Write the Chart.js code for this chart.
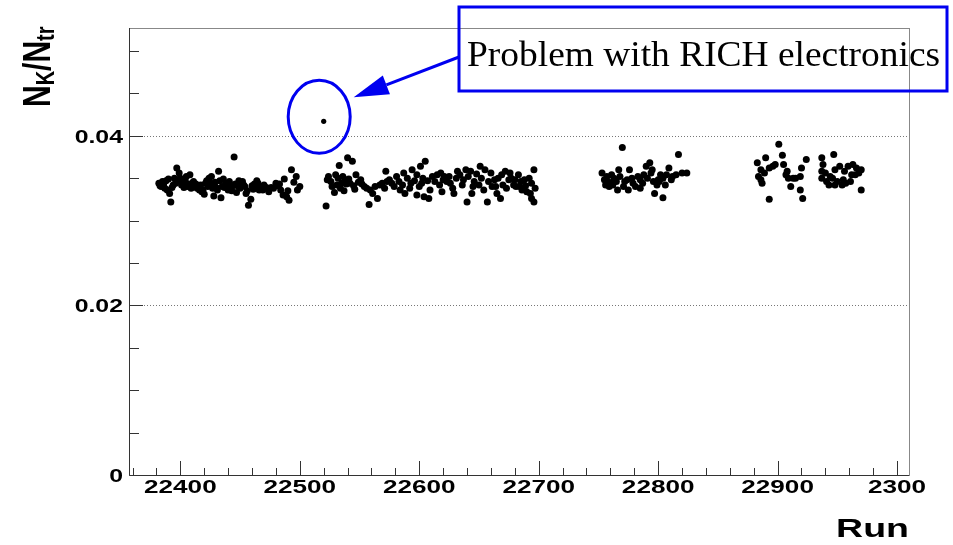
<!DOCTYPE html>
<html>
<head>
<meta charset="utf-8">
<script src="https://cdn.jsdelivr.net/npm/chart.js@4"></script>
<style>
  html, body { margin: 0; padding: 0; background: #fff; }
  #wrap { width: 953px; height: 545px; }
</style>
</head>
<body>
<div id="wrap"><canvas id="kaon-chart" width="953" height="545"></canvas></div>
<script>
// run blocks (kaon / track ratio per run)
const runsA = [22382,22384,22385,22387,22389,22390,22391,22392,22394,22396,22397,22399,22400,22402,22404,22406,22408,22410,22412,22414,22416,22418,22420,22422,22424,22426,22428,22430,22432,22434,22436,22438,22440,22442,22444,22445,22447,22449,22451,22453,22455,22457,22459,22461,22462,22464,22466,22468,22470,22472,22474,22478,22480,22482,22484,22486,22487,22489,22490,22491,22493,22495,22497,22498,22500,
  22383,22386,22388,22393,22395,22398,22401,22403,22405,22407,22409,22411,22413,22415,22417,22419,22421,22423,22425,22427,22429,22431,22433,22435,22437,22439,22441,22443,22446,22448,22450,22452,22454,22456,22460,22463,22465,22469,22476,22483];
const ratioA = [.0344,.0340,.0346,.0338,.0336,.0349,.0332,.0322,.0342,.0344,.0362,.0356,.0350,.0345,.0347,.0340,.0354,.0344,.0341,.0338,.0336,.0334,.0331,.0347,.0350,.0352,.0329,.0339,.0358,.0327,.0349,.0344,.0336,.0338,.0341,.0375,.0333,.0347,.0344,.0342,.0332,.0318,.0325,.0337,.0343,.0347,.0336,.0340,.0342,.0339,.0334,.0338,.0344,.0341,.0336,.0330,.0349,.0328,.0335,.0324,.0360,.0345,.0352,.0336,.0340,
  .0341,.0343,.0347,.0339,.0350,.0348,.0342,.0339,.0352,.0343,.0338,.0346,.0343,.0339,.0342,.0336,.0344,.0340,.0344,.0338,.0345,.0336,.0347,.0340,.0339,.0342,.0346,.0335,.0343,.0341,.0338,.0346,.0340,.0335,.0341,.0339,.0344,.0336,.0339,.0343];

const runsB = [22522,22523,22529,22530,22533,22535,22538,22540,22542,22544,22547,22551,22554,22558,22561,22563,22565,22569,22572,22575,22579,22583,22584,22587,22588,22593,22594,22598,22598,22601,22602,22604,22605,22608,22609,22611,22615,22618,22619,22621,22623,22626,22629,22632,22634,22636,22639,22640,22643,22644,22646,22650,22651,22654,22655,22657,22660,22663,22664,22665,22668,22669,22672,22675,22676,22679,22681,22683,22685,22686,22688,22690,22693,22694,22694,22696,22696,
  22524,22526,22527,22531,22532,22534,22536,22537,22539,22541,22545,22546,22549,22552,22556,22559,22567,22571,22573,22577,22581,22586,22590,22592,22596,22600,22603,22607,22613,22617,22620,22625,22628,22631,22637,22641,22645,22648,22652,22658,22661,22666,22670,22673,22677,22680,22684,22689,22692,22697];
const ratioB = [.0317,.0348,.0333,.0354,.0365,.0344,.0348,.0374,.0344,.0370,.0354,.0348,.0340,.0319,.0332,.0340,.0326,.0344,.0358,.0348,.0340,.0346,.0336,.0356,.0332,.0344,.0360,.0354,.0330,.0364,.0344,.0328,.0370,.0326,.0336,.0352,.0354,.0356,.0334,.0352,.0346,.0344,.0332,.0358,.0354,.0342,.0360,.0322,.0358,.0332,.0346,.0342,.0364,.0336,.0360,.0322,.0356,.0348,.0340,.0332,.0326,.0354,.0358,.0348,.0356,.0342,.0340,.0354,.0346,.0336,.0348,.0334,.0332,.0344,.0326,.0360,.0322,
  .0352,.0346,.0340,.0342,.0350,.0338,.0352,.0335,.0343,.0349,.0341,.0337,.0345,.0343,.0338,.0336,.0342,.0338,.0346,.0344,.0352,.0342,.0350,.0338,.0347,.0340,.0350,.0347,.0346,.0342,.0348,.0352,.0338,.0350,.0348,.0352,.0340,.0355,.0350,.0346,.0340,.0350,.0342,.0338,.0350,.0348,.0340,.0341,.0350,.0338];

const runsC = [22753,22755,22757,22759,22760,22763,22766,22767,22768,22770,22772,22775,22776,22778,22781,22785,22785,22788,22790,22793,22794,22796,22797,22799,22802,22804,22804,22806,22809,22812,22817,22820,22824,22758,22762,22779,22800,
  22756,22761,22765,22771,22774,22783,22787,22791,22795,22801,22807,22811,22815];
const ratioC = [.0356,.0348,.0352,.0340,.0344,.0350,.0336,.0360,.0352,.0386,.0346,.0336,.0360,.0350,.0340,.0348,.0338,.0354,.0364,.0368,.0356,.0346,.0332,.0342,.0354,.0350,.0327,.0342,.0362,.0352,.0378,.0356,.0356,.0346,.0342,.0344,.0348,
  .0342,.0354,.0346,.0340,.0348,.0352,.0344,.0350,.0360,.0346,.0354,.0348,.0354];

const runsD = [22883,22886,22886,22887,22890,22893,22893,22896,22901,22904,22905,22908,22909,22911,22915,22919,22919,22920,22921,22924,22937,22937,22937,22941,22943,22944,22947,22948,22948,22952,22954,22955,22957,22959,22962,22963,22965,22966,22970,22970,
  22884,22889,22898,22907,22913,22938,22940,22946,22950,22956,22961,22968];
const ratioD = [.0368,.0360,.0348,.0344,.0374,.0362,.0325,.0364,.0390,.0377,.0366,.0358,.0350,.0340,.0350,.0352,.0336,.0362,.0326,.0372,.0374,.0358,.0350,.0346,.0342,.0352,.0378,.0360,.0342,.0364,.0342,.0348,.0344,.0364,.0354,.0366,.0354,.0362,.0360,.0336,
  .0352,.0356,.0366,.0354,.0350,.0366,.0356,.0350,.0346,.0358,.0346,.0356];

// the bad run (RICH electronics)
const badRun = [22520];
const badRatio = [0.0417];

const xTicks = [22400, 22500, 22600, 22700, 22800, 22900, 23000];
const xTickLabels = ['22400', '22500', '22600', '22700', '22800', '22900', '2300'];
const yTicks = [0, 0.02, 0.04];
const yTickLabels = ['0', '0.02', '0.04'];

const toPoints = (xs, ys) => xs.map((r, i) => ({ x: r, y: ys[i] }));
const goodPoints = [].concat(
  toPoints(runsA, ratioA), toPoints(runsB, ratioB),
  toPoints(runsC, ratioC), toPoints(runsD, ratioD));

const sans = 'Liberation Sans, Arial, Helvetica, sans-serif';

// text drawn wide (the axis font is stretched horizontally)
function wideText(ctx, s, x, y, font, sx, align) {
  ctx.save();
  ctx.font = font;
  const w = ctx.measureText(s).width * sx;
  const left = align === 'center' ? x - w / 2 : align === 'right' ? x - w : x;
  ctx.translate(left, y);
  ctx.scale(sx, 1);
  ctx.textAlign = 'left';
  ctx.textBaseline = 'alphabetic';
  ctx.fillText(s, 0, 0);
  ctx.restore();
}

// frame, inward ticks, dotted grid, labels, y title and the annotation
const rootStyle = {
  id: 'rootStyle',
  beforeDatasetsDraw(chart) {
    const { ctx, chartArea: ca, scales: { y } } = chart;
    ctx.save();
    ctx.strokeStyle = '#777';
    ctx.lineWidth = 1;
    ctx.setLineDash([1, 2]);
    yTicks.slice(1).forEach(v => {
      const py = Math.round(y.getPixelForValue(v)) + 0.5;
      ctx.beginPath();
      ctx.moveTo(ca.left, py);
      ctx.lineTo(ca.right, py);
      ctx.stroke();
    });
    ctx.restore();
  },
  afterDatasetsDraw(chart) {
    const { ctx, chartArea: ca, scales: { x, y } } = chart;
    ctx.save();

    // box
    ctx.strokeStyle = '#888';
    ctx.lineWidth = 1;
    ctx.strokeRect(Math.round(ca.left) + 0.5, Math.round(ca.top) + 0.5,
                   Math.round(ca.right - ca.left), Math.round(ca.bottom - ca.top));
    ctx.strokeStyle = '#333';
    ctx.beginPath();
    ctx.moveTo(Math.round(ca.left) + 0.5, ca.top);
    ctx.lineTo(Math.round(ca.left) + 0.5, Math.round(ca.bottom) + 0.5);
    ctx.lineTo(ca.right, Math.round(ca.bottom) + 0.5);
    ctx.stroke();

    // ticks point into the frame
    for (let r = 22360; r <= 23000; r += 20) {
      const px = Math.round(x.getPixelForValue(r)) + 0.5;
      const len = r % 100 === 0 ? 14 : 7;
      ctx.beginPath();
      ctx.moveTo(px, ca.bottom);
      ctx.lineTo(px, ca.bottom - len);
      ctx.stroke();
    }
    for (let k = 1; k <= 10; k++) {
      const py = Math.round(y.getPixelForValue(k * 0.005)) + 0.5;
      const len = k % 4 === 0 ? 14 : 10;
      ctx.beginPath();
      ctx.moveTo(ca.left, py);
      ctx.lineTo(ca.left + len, py);
      ctx.stroke();
    }

    // tick labels and axis titles
    ctx.fillStyle = '#000';
    const tickFont = 'bold 18px ' + sans;
    xTicks.forEach((v, i) => {
      wideText(ctx, xTickLabels[i], x.getPixelForValue(v), ca.bottom + 18, tickFont, 1.45, 'center');
    });
    yTicks.forEach((v, i) => {
      wideText(ctx, yTickLabels[i], ca.left - 6, y.getPixelForValue(v) + 7, tickFont, 1.38, 'right');
    });
    wideText(ctx, 'Run', ca.right, 537, 'bold 25px ' + sans, 1.5, 'right');

    // y title  N_K / N_tr, rotated; its letters are stretched across the axis
    ctx.translate(50, 107);
    ctx.rotate(-Math.PI / 2);
    ctx.scale(1, 1.3);
    ctx.textBaseline = 'alphabetic';
    const big = 'bold 30px ' + sans, small = 'bold 20px ' + sans;
    let tx = 0;
    const put = (s, font, dy) => {
      ctx.font = font;
      ctx.fillText(s, tx, dy);
      tx += ctx.measureText(s).width;
    };
    put('N', big, 0);
    put('K', small, 3);
    put('/', big, 0);
    put('N', big, 0);
    put('tr', small, 3);
    ctx.restore();

    // annotation around the bad run
    const p = chart.getDatasetMeta(1).data[0];
    ctx.save();
    ctx.strokeStyle = '#0000f0';
    ctx.fillStyle = '#0000f0';
    ctx.lineWidth = 3;
    ctx.beginPath();
    ctx.ellipse(p.x - 4.5, p.y - 4.5, 31, 36.5, 0, 0, Math.PI * 2);
    ctx.stroke();

    const tip = { x: p.x + 30, y: p.y - 24 };
    const tail = { x: 459, y: 57 };
    const ang = Math.atan2(tail.y - tip.y, tail.x - tip.x);
    const headLen = 35, headW = 10;
    const bx = tip.x + Math.cos(ang) * headLen, by = tip.y + Math.sin(ang) * headLen;
    ctx.beginPath();
    ctx.moveTo(tail.x, tail.y);
    ctx.lineTo(bx, by);
    ctx.stroke();
    ctx.beginPath();
    ctx.moveTo(tip.x, tip.y);
    ctx.lineTo(bx - Math.sin(ang) * headW, by + Math.cos(ang) * headW);
    ctx.lineTo(bx + Math.sin(ang) * headW, by - Math.cos(ang) * headW);
    ctx.closePath();
    ctx.fill();

    ctx.strokeRect(459, 7, 488, 84);
    ctx.fillStyle = '#000';
    wideText(ctx, 'Problem with RICH electronics', 467, 66,
             '36px "Liberation Serif", "Times New Roman", serif', 1.04, 'left');
    ctx.restore();
  }
};

new Chart(document.getElementById('kaon-chart'), {
  type: 'scatter',
  data: {
    datasets: [
      {
        label: 'runs',
        data: goodPoints,
        backgroundColor: '#000',
        borderWidth: 0,
        pointRadius: 3.5
      },
      {
        label: 'bad run',
        data: toPoints(badRun, badRatio),
        backgroundColor: '#000',
        borderWidth: 0,
        pointRadius: 2.6
      }
    ]
  },
  options: {
    responsive: false,
    animation: false,
    layout: { padding: { top: 28, right: 44, left: 0, bottom: 0 } },
    plugins: {
      legend: { display: false },
      tooltip: { enabled: false }
    },
    scales: {
      x: {
        type: 'linear',
        min: 22357,
        max: 23010,
        grid: { display: false, drawTicks: false },
        border: { display: false },
        ticks: { display: false },
        afterBuildTicks: s => { s.ticks = xTicks.map(v => ({ value: v })); },
        afterFit: s => { s.height = 70; }
      },
      y: {
        min: 0,
        max: 0.0527,
        grid: { display: false, drawTicks: false },
        border: { display: false },
        ticks: { display: false },
        afterBuildTicks: s => { s.ticks = yTicks.map(v => ({ value: v })); },
        afterFit: s => { s.width = 129; }
      }
    }
  },
  plugins: [rootStyle]
});
</script>
</body>
</html>
